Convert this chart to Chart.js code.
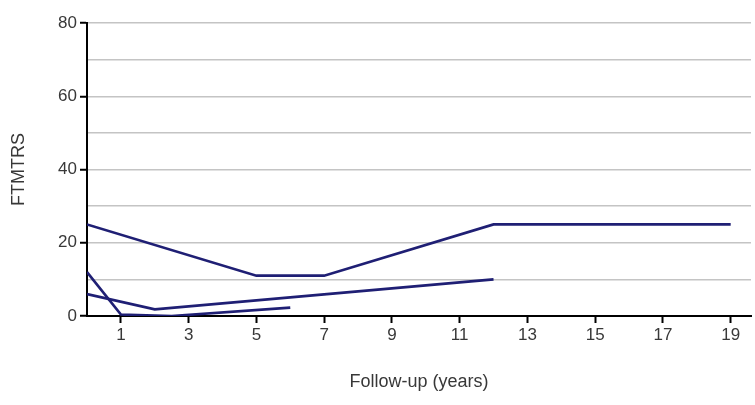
<!DOCTYPE html>
<html>
<head>
<meta charset="utf-8">
<script src="https://cdn.jsdelivr.net/npm/chart.js@4"></script>
<style>
  html, body { margin: 0; padding: 0; background: #fff; }
  #wrap { width: 755px; height: 405px; }
</style>
</head>
<body>
<div id="wrap"><canvas id="chart" width="755" height="405"></canvas></div>
<script>
// follow-up years / FTMTRS score per patient
const yearsA = [0, 5, 7, 12, 19];
const scoreA = [25, 11, 11, 25, 25];
const yearsB = [0, 2, 12];
const scoreB = [6, 1.8, 10];
const yearsC = [0, 1, 2.5, 6];
const scoreC = [12, 0.4, 0, 2.3];

const xTicks = [1, 3, 5, 7, 9, 11, 13, 15, 17, 19];
const yLabelled = [0, 20, 40, 60, 80];

const lineColor = '#1f1f74';
const textColor = '#383838';
const tickFont = { family: '"Liberation Sans", Arial, sans-serif', size: 17 };
const titleFont = { family: '"Liberation Sans", Arial, sans-serif', size: 18 };

function toPoints(xs, ys) {
  return xs.map((x, i) => ({ x: x, y: ys[i] }));
}

function series(xs, ys) {
  return {
    data: toPoints(xs, ys),
    borderColor: lineColor,
    borderWidth: 2.7,
    pointRadius: 0,
    tension: 0,
    fill: false
  };
}

const ctx = document.getElementById('chart').getContext('2d');

new Chart(ctx, {
  type: 'line',
  data: {
    datasets: [
      series(yearsA, scoreA),
      series(yearsB, scoreB),
      series(yearsC, scoreC)
    ]
  },
  options: {
    responsive: false,
    animation: false,
    layout: { padding: { top: 23, right: 4, bottom: 0, left: 0 } },
    plugins: {
      legend: { display: false },
      tooltip: { enabled: false }
    },
    scales: {
      x: {
        type: 'linear',
        min: 0,
        max: 19.6,
        afterBuildTicks: scale => {
          scale.ticks = xTicks.map(v => ({ value: v }));
        },
        afterFit: scale => { scale.height = 89; },
        border: { color: '#000', width: 2 },
        grid: {
          drawOnChartArea: false,
          drawTicks: true,
          tickLength: 7,
          tickColor: '#000',
          tickWidth: 2
        },
        ticks: {
          color: textColor,
          font: tickFont,
          padding: 2,
          maxRotation: 0,
          autoSkip: false
        },
        title: {
          display: true,
          text: 'Follow-up (years)',
          color: textColor,
          font: titleFont,
          padding: { top: 0, bottom: 12 }
        }
      },
      y: {
        min: 0,
        max: 80,
        afterFit: scale => { scale.width = 87; },
        border: { color: '#000', width: 2 },
        grid: {
          color: '#c4c4c4',
          lineWidth: 1.5,
          tickLength: 7,
          tickWidth: 2,
          tickColor: c => yLabelled.includes(c.tick.value) ? '#000' : 'rgba(0,0,0,0)'
        },
        ticks: {
          stepSize: 10,
          color: textColor,
          font: tickFont,
          padding: 3,
          callback: v => yLabelled.includes(v) ? String(v) : ''
        },
        title: {
          display: true,
          text: 'FTMTRS',
          color: textColor,
          font: titleFont,
          padding: { top: 8, bottom: 0 }
        }
      }
    }
  }
});
</script>
</body>
</html>
